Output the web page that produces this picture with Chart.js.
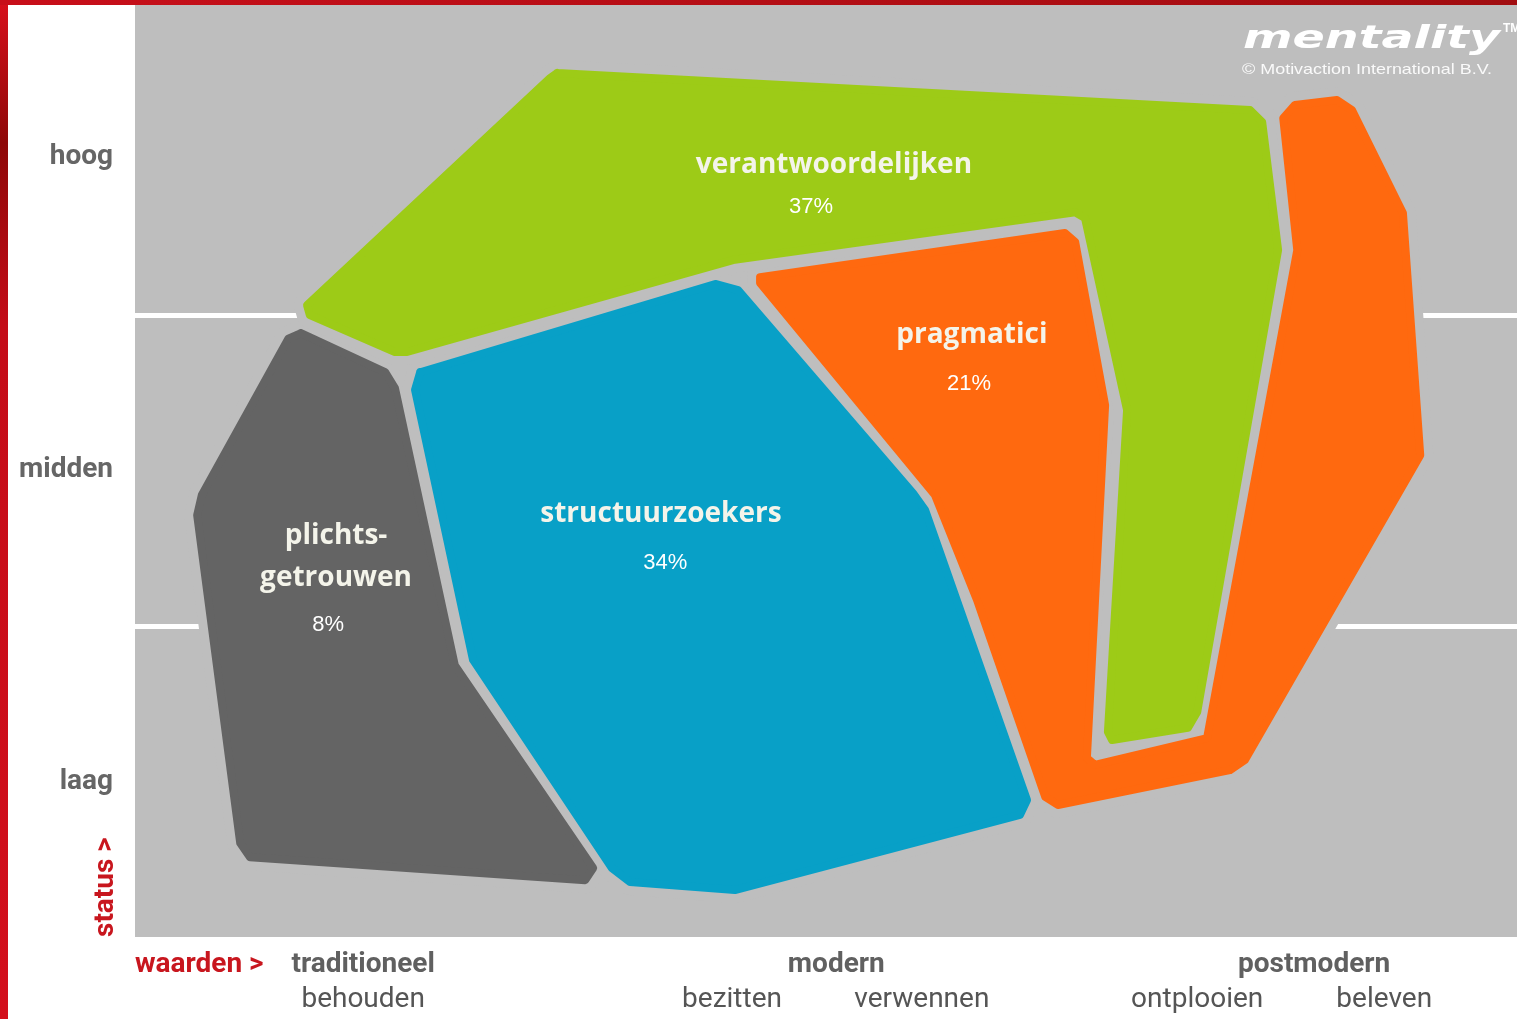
<!doctype html>
<html lang="nl">
<head>
    <title>Mentality milieus</title>
    <meta charset="UTF-8" />
    <style>
        html, body { margin: 0; padding: 0; background: #fff; }
        #wrap { position: relative; width: 1517px; height: 1019px; overflow: hidden; }
        #myChart { display: block; }
        #redLeft { position: absolute; left: 0; top: 0; width: 8px; height: 1019px;
            background: linear-gradient(#d8101c, #8e0808 14%, #c40c18 32%, #d30f1c 100%); }
        #redTop { position: absolute; left: 0; top: 0; width: 1517px; height: 5px;
            background: linear-gradient(90deg, #c80f1a, #a10d10); }
    </style>
</head>
<body>
<div id="wrap">
    <canvas id="myChart" width="1517" height="1019"></canvas>
    <div id="redLeft"></div>
    <div id="redTop"></div>
</div>
<script src="https://cdn.jsdelivr.net/npm/chart.js"></script>

<script>
    // axes: x = waarden (100 per column), y = status (100 per row)
    const statusLevels = ['laag', 'midden', 'hoog'];
    const statusTicks = [50, 150.4, 251];
    const valueGroups = ['traditioneel', 'modern', 'postmodern'];
    const valueGroupTicks = [48.8, 150, 252.2];
    const valueSubs = ['behouden', 'bezitten', 'verwennen', 'ontplooien', 'beleven'];
    const valueSubTicks = [48.8, 127.7, 168.3, 227.2, 267.2];

    // segment outlines [x, y]
    const verantwoordelijken = [[90.3,278.1],[238.5,266.2],[241.1,262.3],[244.5,221.1],[227.2,72.4],[225.2,67.3],
        [209.0,63.4],[208.1,66.0],[212.2,169.6],[203.2,231.4],[201.1,233.3],[127.9,217.9],[58.2,188.3],[55.6,188.3],
        [37.4,200.2],[36.8,203.4],[88.8,276.5]];
    const pragmatici = [[133.7,212.4],[198.9,226.6],[201.1,223.7],[207.5,171.2],[203.6,57.6],[205.3,55.4],
        [229.3,64.0],[248.6,221.1],[245.6,263.6],[248.1,267.8],[257.1,269.4],[260.3,266.2],[271.2,233.0],
        [274.9,155.1],[237.4,57.0],[234.2,53.7],[197.4,42.5],[194.7,45.1],[180.1,108.5],[171.1,142.3],[133.7,210.5]];
    const structuurzoekers = [[61.0,181.8],[124.1,210.2],[129.0,208.2],[166.4,142.9],[169.0,137.4],[190.8,44.1],
        [189.3,39.3],[128.3,15.1],[105.9,17.7],[102.0,22.2],[72.3,89.2],[59.9,176.1]];
    const plichtsgetrouwen = [[35.5,194.4],[53.5,181.8],[55.6,176.7],[68.4,87.5],[98.0,22.2],[96.3,18.3],
        [24.6,25.7],[22.5,30.3],[13.3,135.8],[14.3,142.3],[32.8,192.6]];

    const segmentNames = ['verantwoordelijken', 'pragmatici', 'structuurzoekers', 'plichts-\ngetrouwen'];
    const segmentShares = ['37%', '21%', '34%', '8%'];
    const nameX = [149.5, 179.0, 112.5, 43.0];
    const nameY = [248.5, 193.8, 136.2, 122.3];
    const shareX = [144.6, 178.4, 113.4, 41.3];
    const shareY = [235.0, 178.0, 120.4, 100.4];

    const shapes = [verantwoordelijken, pragmatici, structuurzoekers, plichtsgetrouwen];
    const colors = ['#9dcb17', '#ff690f', '#08a0c7', '#646464'];
    const plotGray = '#bebebe';

    const datasets = [];
    shapes.forEach(function (pts, i) {
        const closed = pts.concat([pts[0]]);
        // gray halo so the white grid stops short of each shape
        datasets.push({
            label: segmentNames[i] + ' rand',
            data: closed.map(p => ({x: p[0], y: p[1]})),
            borderColor: plotGray, borderWidth: 26, borderJoinStyle: 'round', borderCapStyle: 'round',
            fill: false, pointRadius: 0, order: 2
        });
        datasets.push({
            label: segmentNames[i],
            data: closed.map(p => ({x: p[0], y: p[1]})),
            backgroundColor: colors[i], borderColor: colors[i], borderWidth: 8,
            borderJoinStyle: 'round', borderCapStyle: 'round',
            fill: 'shape', pointRadius: 0, order: 1
        });
    });

    const decorPlugin = {
        id: 'decor',
        beforeDraw(chart) {
            const {ctx, chartArea: a} = chart;
            ctx.save();
            ctx.fillStyle = '#fff';
            ctx.fillRect(0, 0, chart.width, chart.height);
            ctx.fillStyle = plotGray;
            ctx.fillRect(a.left, a.top, a.right - a.left, a.bottom - a.top);
            ctx.restore();
        },
        afterDatasetsDraw(chart) {
            const {ctx, scales: {x, y}} = chart;
            ctx.save();
            ctx.textAlign = 'center';
            ctx.textBaseline = 'middle';
            segmentNames.forEach(function (name, i) {
                const lines = name.split('\n');
                const px = x.getPixelForValue(nameX[i]);
                const py = y.getPixelForValue(nameY[i]);
                ctx.font = '700 28px "Open Sans"';
                ctx.fillStyle = '#f4f4ea';
                lines.forEach((ln, j) => ctx.fillText(ln, px, py + (j - (lines.length - 1) / 2) * 42));
                ctx.font = '22px "Liberation Sans"';
                ctx.fillStyle = '#ffffff';
                ctx.fillText(segmentShares[i], x.getPixelForValue(shareX[i]), y.getPixelForValue(shareY[i]));
            });
            ctx.restore();
        },
        afterDraw(chart) {
            const {ctx, chartArea: a} = chart;
            ctx.save();
            // axis names
            ctx.fillStyle = '#c8161e';
            ctx.font = '700 28px Roboto';
            ctx.textAlign = 'left';
            ctx.textBaseline = 'middle';
            ctx.fillText('waarden >', a.left, 965);
            ctx.translate(106, a.bottom);
            ctx.rotate(-Math.PI / 2);
            ctx.fillText('status >', 0, 0);
            ctx.restore();

            // logo
            ctx.save();
            ctx.fillStyle = '#ffffff';
            ctx.font = 'italic 700 30px "DejaVu Sans"';
            ctx.textBaseline = 'alphabetic';
            const w = ctx.measureText('mentality').width;
            ctx.translate(1243, 48);
            ctx.scale(257 / w, 1.05);
            ctx.fillText('mentality', 0, 0);
            ctx.restore();
            ctx.save();
            ctx.fillStyle = '#ffffff';
            ctx.font = '700 12px "Liberation Sans"';
            ctx.fillText('TM', 1503, 32);
            ctx.font = '15px "Liberation Sans"';
            ctx.globalAlpha = 0.92;
            const t = '\u00A9 Motivaction International B.V.';
            const tw = ctx.measureText(t).width;
            ctx.translate(1242, 74);
            ctx.scale(250 / tw, 1);
            ctx.fillText(t, 0, 0);
            ctx.restore();
        }
    };

    const fixedTicks = (values) => (axis) => { axis.ticks = values.map(v => ({value: v})); };
    const noPad = (s) => { s.paddingTop = 0; s.paddingBottom = 0; s.paddingLeft = 0; s.paddingRight = 0; };
    const gridColor = c => (c.tick && (c.tick.value === 100 || c.tick.value === 200)) ? '#ffffff' : 'rgba(0,0,0,0)';

    const ctx = document.getElementById('myChart');
    chart = new Chart(ctx, {
        type: 'line',
        data: {datasets: datasets},
        options: {
            responsive: false,
            animation: false,
            events: [],
            layout: {padding: {top: 5, left: 0, right: 0, bottom: 0}},
            plugins: {legend: {display: false}, tooltip: {enabled: false}},
            scales: {
                x: {
                    type: 'linear', min: 0, max: 295.6, weight: 0,
                    ticks: {display: false, stepSize: 100},
                    border: {display: false},
                    grid: {drawTicks: false, lineWidth: 5, color: gridColor},
                    afterFit: s => { s.height = 0; noPad(s); }
                },
                y: {
                    type: 'linear', min: 0, max: 300, weight: 0,
                    ticks: {display: false, stepSize: 100},
                    border: {display: false},
                    grid: {drawTicks: false, lineWidth: 5, color: gridColor},
                    afterFit: s => { s.width = 0; noPad(s); }
                },
                yLab: {
                    type: 'linear', position: 'left', min: 0, max: 300, weight: 1,
                    afterBuildTicks: fixedTicks(statusTicks),
                    ticks: {
                        callback: (v, i) => statusLevels[i], autoSkip: false, padding: 22,
                        color: '#666666', font: {family: 'Roboto', size: 28, weight: 'bold'}
                    },
                    grid: {display: false, drawTicks: false},
                    border: {display: false},
                    afterFit: s => { s.width = 135; noPad(s); }
                },
                xGroup: {
                    type: 'linear', position: 'bottom', min: 0, max: 295.6, weight: 1,
                    afterBuildTicks: fixedTicks(valueGroupTicks),
                    ticks: {
                        callback: (v, i) => valueGroups[i], autoSkip: false, maxRotation: 0, minRotation: 0, padding: 11,
                        color: '#606060', font: {family: 'Roboto', size: 28, weight: 'bold'}
                    },
                    grid: {display: false, drawTicks: false},
                    border: {display: false},
                    afterFit: s => { s.height = 46; noPad(s); }
                },
                xSub: {
                    type: 'linear', position: 'bottom', min: 0, max: 295.6, weight: 2,
                    afterBuildTicks: fixedTicks(valueSubTicks),
                    ticks: {
                        callback: (v, i) => valueSubs[i], autoSkip: false, maxRotation: 0, minRotation: 0, padding: 0,
                        color: '#555555', font: {family: 'Roboto', size: 28, weight: 'normal'}
                    },
                    grid: {display: false, drawTicks: false},
                    border: {display: false},
                    afterFit: s => { s.height = 36; noPad(s); }
                }
            }
        },
        plugins: [decorPlugin]
    });
</script>
</body>
</html>
